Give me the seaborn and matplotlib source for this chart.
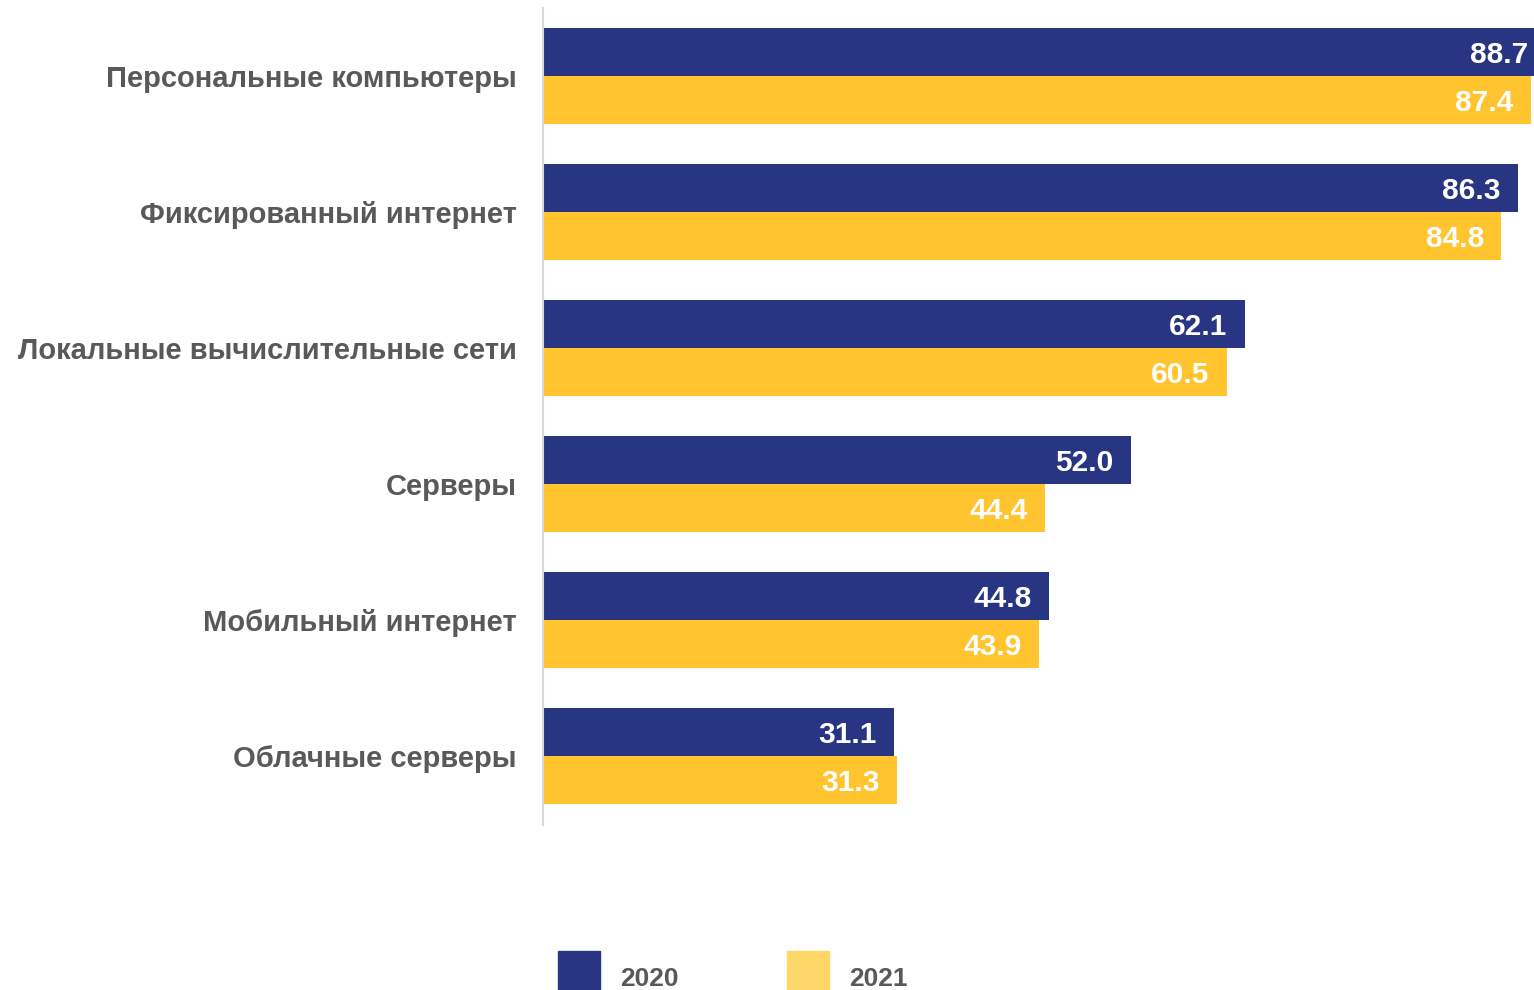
# Использование ИКТ в организациях, 2020 vs 2021 (горизонтальные столбцы)

import pandas as pd
import matplotlib
matplotlib.use("Agg")
import matplotlib.pyplot as plt
import matplotlib.patches as mpatches
import seaborn as sns

# ============================================
# DATA
# ============================================

categories = [
    "Персональные компьютеры",
    "Фиксированный интернет",
    "Локальные вычислительные сети",
    "Серверы",
    "Мобильный интернет",
    "Облачные серверы",
]
values_2020 = [88.7, 86.3, 62.1, 52.0, 44.8, 31.1]
values_2021 = [87.4, 84.8, 60.5, 44.4, 43.9, 31.3]
years = ["2020", "2021"]

bar_colors = {"2020": "#283583", "2021": "#FFC42E"}
legend_colors = {"2020": "#283583", "2021": "#FDD868"}
text_gray = "#595959"

df = pd.DataFrame({
    "category": categories * 2,
    "value": values_2020 + values_2021,
    "year": [years[0]] * len(categories) + [years[1]] * len(categories),
})

# ============================================
# PLOT
# ============================================

sns.set_theme(style="white")
plt.rcParams["font.family"] = ["Liberation Sans", "DejaVu Sans"]

fig = plt.figure(figsize=(15.34, 9.9), dpi=100)
ax = fig.add_axes([543 / 1534, 1 - 825 / 990, 1 - 543 / 1534, (825 - 8) / 990])

sns.barplot(
    data=df,
    y="category",
    x="value",
    hue="year",
    hue_order=years,
    palette=bar_colors,
    orient="h",
    width=0.71,
    saturation=1,
    linewidth=0,
    legend=False,
    ax=ax,
)

ax.set_xlim(0, 991 / 11.3)
ax.set_ylim(5.507, -0.5)

# value labels inside bar ends
for patch in ax.patches:
    w = patch.get_width()
    if w <= 0:
        continue
    yc = patch.get_y() + patch.get_height() / 2
    ax.annotate(
        f"{w:.1f}",
        (w, yc),
        xytext=(-12.5, -2.2),
        textcoords="offset points",
        ha="right",
        va="center",
        fontsize=21.5,
        fontweight="bold",
        color="white",
        annotation_clip=False,
    )

ax.set_xlabel("")
ax.set_ylabel("")
ax.set_xticks([])
ax.tick_params(axis="y", length=0, pad=19)
for lbl in ax.get_yticklabels():
    lbl.set_fontsize(21)
    lbl.set_fontweight("bold")
    lbl.set_color(text_gray)

for side in ["top", "right", "bottom"]:
    ax.spines[side].set_visible(False)
ax.spines["left"].set_color("#D9D9D9")
ax.spines["left"].set_linewidth(1.5)

# legend
handles = [mpatches.Patch(color=legend_colors[y], label=y) for y in years]
leg = fig.legend(
    handles=handles,
    loc="upper left",
    bbox_to_anchor=(558 / 1534, 1 - 951 / 990),
    ncol=2,
    frameon=False,
    fontsize=19,
    handlelength=1.6,
    handleheight=2.8,
    handletextpad=0.75,
    columnspacing=4.1,
    borderpad=0,
    borderaxespad=0,
)
for t in leg.get_texts():
    t.set_fontweight("bold")
    t.set_color(text_gray)

fig.savefig("out.png", dpi=100)
